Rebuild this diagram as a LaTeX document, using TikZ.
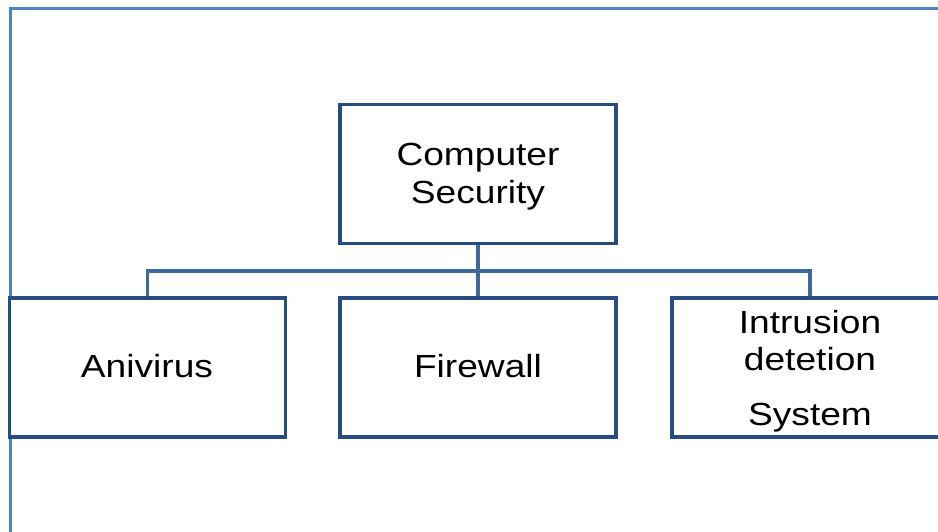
\documentclass[tikz,border=0pt]{standalone}
\usepackage{fontspec}
\setmainfont{Liberation Sans}[FakeStretch=1.16]
\usetikzlibrary{backgrounds}
\definecolor{framec}{HTML}{4F81BD}
\definecolor{boxc}{HTML}{254D80}
\definecolor{linkc}{HTML}{3D699C}
\begin{document}
\begin{tikzpicture}[x=1pt,y=-1pt,
  box/.style={draw=boxc, line width=3.8pt, fill=white, rectangle,
    minimum width=276pt, minimum height=139pt, inner sep=0pt},
  txt/.style={anchor=base, inner sep=0pt, font=\fontsize{32}{37}\selectfont},
  link/.style={draw=linkc, line width=3.4pt}]
  \useasboundingbox (0,0) rectangle (938,531);
  \clip (0,0) rectangle (938,531);

  % boxes
  \node[box] (cs)  at (478,174)     {};
  \node[box] (av)  at (147.5,367.5) {};
  \node[box] (fw)  at (478,367.5)   {};
  \node[box] (ids) at (810,367.5)   {};

  \begin{scope}[on background layer]
    \fill[white] (0,0) rectangle (938,531);
    % outer frame, running off the right and bottom edges
    \draw[framec, line width=3pt] (10,8) rectangle (990,600);
    % tree connectors
    \coordinate (bus) at (478,271);
    \draw[link] (cs.south) -- (bus);
    \draw[link] (av.north) |- (bus) -| (ids.north);
    \draw[link] (bus) -- (fw.north);
  \end{scope}

  % labels
  \node[txt] (t1) at (478,165) {Computer};
  \node[txt] (t2) at (478,203) {Security};
  \node[txt] (t3) at (147,377) {Anivirus};
  \node[txt] (t4) at (478,377) {Firewall};
  \node[txt] (t5) at (810,333) {Intrusion};
  \node[txt] (t6) at (810,370) {detetion};
  \node[txt] (t7) at (810,425) {System};
\end{tikzpicture}
\end{document}
